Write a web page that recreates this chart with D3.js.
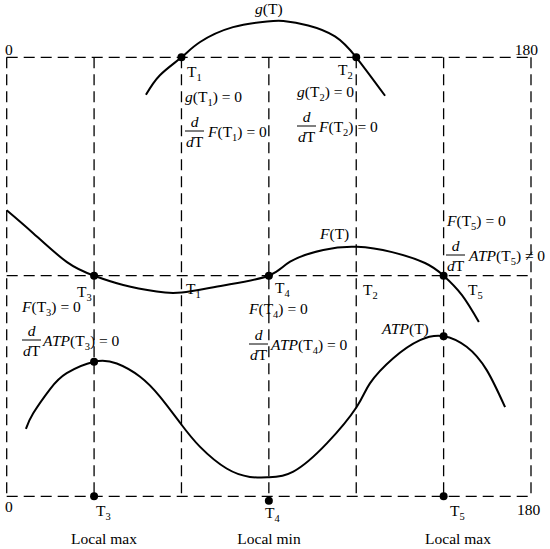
<!DOCTYPE html>
<html>
<head>
<meta charset="utf-8">
<script src="https://cdn.jsdelivr.net/npm/d3@7"></script>
<style>
  body { margin: 0; background: #fff; }
  text { font-family: "Liberation Serif", "Times New Roman", serif; font-size: 15.5px; fill: #000; }
</style>
</head>
<body>
<div id="chart"></div>
<script>
(function(){

    const width = 550;
    const height = 549;

    // grid positions (T axis runs 0..180, horizontal levels: bottom, middle, top)
    const gridT = [0, 30, 60, 90, 120, 150, 180];
    const levels = [0, 50, 100];

    // curves, [T, value]
    const gCurve = [[47.8,91.4],[52.6,95.9],[60,100],[66.4,103.5],[77.7,106.9],[89.4,108.2],
        [95,108.3],[103.5,107.3],[112.7,104.8],[120,100],[129.9,91.2]];
    const fCurve = [[0,65.0],[9.0,59.8],[20.7,53.1],[30,50],[40.0,47.9],[51.5,46.4],[60.1,46.2],
        [74.4,47.8],[90,50],[97.3,53.2],[108.7,55.9],[120.2,56.6],[132.3,55.4],[143.6,52.9],
        [150,50],[156.3,45.6],[162.1,39.5]];
    const atpCurve = [[6.6,15.3],[9.1,18.8],[14.9,24.3],[20.6,27.9],[30,30.5],[37.8,30.1],
        [45.8,27.1],[52.6,22.6],[59.7,16.5],[66.4,11.2],[75.5,6.3],[83.5,4.4],[90,4.3],
        [98.4,5.6],[109.9,12.0],[120.2,20.3],[124.7,25.6],[132.7,31.3],[141.9,35.4],
        [150,36.3],[157.9,33.9],[164.8,28.6],[171.1,20.2]];

    // marked points
    const dots = [[60,100],[120,100],[30,50],[90,50],[150,50],[30,30.5],[150,36.3],[30,0],[90,-1],[150,0]];

    const x = d3.scaleLinear().domain([0, 180]).range([6.7, 531]);
    const y = d3.scaleLinear().domain([0, 50, 100]).range([496.3, 275.7, 57.3]);

    const svg = d3.select("#chart")
        .append("svg")
        .attr("width", width)
        .attr("height", height);

    svg.append("rect").attr("width", width).attr("height", height).attr("fill", "#fff");

    const dash = "11,6";

    // horizontal dashed lines
    svg.selectAll(".hline")
        .data(levels)
        .enter().append("line")
        .attr("x1", x(0)).attr("x2", x(180))
        .attr("y1", d => y(d)).attr("y2", d => y(d))
        .attr("stroke", "#000").attr("stroke-width", 1.3)
        .attr("stroke-dasharray", dash);

    // vertical dashed lines
    svg.selectAll(".vline")
        .data(gridT)
        .enter().append("line")
        .attr("x1", d => x(d)).attr("x2", d => x(d))
        .attr("y1", y(100)).attr("y2", y(0))
        .attr("stroke", "#000").attr("stroke-width", 1.3)
        .attr("stroke-dasharray", dash);

    const line = d3.line()
        .x(d => x(d[0]))
        .y(d => y(d[1]))
        .curve(d3.curveNatural);

    [gCurve, fCurve, atpCurve].forEach(function(c){
        svg.append("path")
            .attr("d", line(c))
            .attr("fill", "none")
            .attr("stroke", "#000")
            .attr("stroke-width", 2);
    });

    svg.selectAll(".dot")
        .data(dots)
        .enter().append("circle")
        .attr("cx", d => x(d[0]))
        .attr("cy", d => y(d[1]))
        .attr("r", 4)
        .attr("fill", "#000");

    // text with *italic* and _sub markup
    function label(px, py, s, anchor){
        const t = svg.append("text")
            .attr("x", px).attr("y", py)
            .attr("text-anchor", anchor || "start");
        const parts = s.split(/(\*[^*]+\*|_\d)/).filter(p => p.length);
        let shifted = false;
        parts.forEach(function(p){
            const ts = t.append("tspan");
            if (p[0] === "*") {
                ts.text(p.slice(1, -1)).attr("font-style", "italic");
                if (shifted) { ts.attr("dy", -4); shifted = false; }
            } else if (p[0] === "_") {
                ts.text(p.slice(1)).attr("font-size", "10.5px").attr("dy", 4);
                shifted = true;
            } else {
                ts.text(p);
                if (shifted) { ts.attr("dy", -4); shifted = false; }
            }
        });
        return t;
    }

    // d/dT fraction
    function frac(px, py){
        svg.append("text").attr("x", px + 9.5).attr("y", py - 10)
            .attr("text-anchor", "middle").attr("font-style", "italic").text("d");
        svg.append("line")
            .attr("x1", px).attr("x2", px + 19)
            .attr("y1", py - 6).attr("y2", py - 6)
            .attr("stroke", "#000").attr("stroke-width", 1);
        const t = svg.append("text").attr("x", px + 9.5).attr("y", py + 10)
            .attr("text-anchor", "middle");
        t.append("tspan").attr("font-style", "italic").text("d");
        t.append("tspan").text("T");
    }

    label(5, 55, "0");
    label(538, 55, "180", "end");
    label(255, 14, "*g*(T)");

    label(187, 77, "T_1");
    label(185, 102, "*g*(T_1) = 0");
    frac(185, 137); label(208, 137, "*F*(T_1) = 0");

    label(338, 75, "T_2");
    label(297, 97, "*g*(T_2) = 0");
    frac(297, 132); label(319, 132, "*F*(T_2) = 0");

    label(320, 239, "*F*(T)");
    label(447, 226, "*F*(T_5) = 0");
    frac(446, 261); label(469, 261, "*ATP*(T_5) ≠ 0");

    label(77, 297, "T_3");
    label(186, 294, "T_1");
    label(275, 293, "T_4");
    label(363, 295, "T_2");
    label(468, 295, "T_5");

    label(22, 312, "*F*(T_3) = 0");
    frac(22, 346); label(43, 346, "*ATP*(T_3) = 0");

    label(249, 314, "*F*(T_4) = 0");
    frac(249, 350); label(271, 350, "*ATP*(T_4) = 0");

    label(382, 334, "*ATP*(T)");

    label(5, 512, "0");
    label(517, 515, "180");
    label(96, 516, "T_3");
    label(265, 518, "T_4");
    label(450, 516, "T_5");

    label(104, 544, "Local max", "middle");
    label(269, 544, "Local min", "middle");
    label(458, 544, "Local max", "middle");

}());
</script>
</body>
</html>
